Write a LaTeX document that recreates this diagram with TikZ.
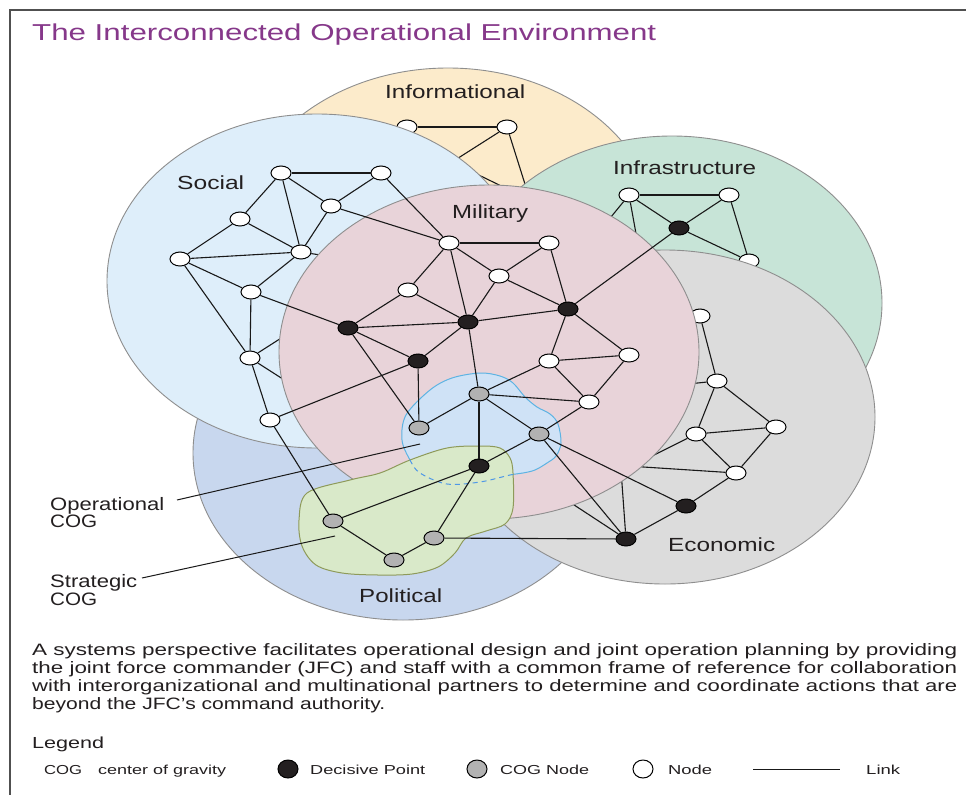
\documentclass[tikz,border=0pt]{standalone}
\usepackage{fontspec}
\setmainfont{Liberation Sans}
\usepackage{graphicx}
\usetikzlibrary{shapes.geometric}
\definecolor{infoc}{HTML}{FCEBCB}
\definecolor{socc}{HTML}{DEEEFA}
\definecolor{milc}{HTML}{E8D3D9}
\definecolor{infrac}{HTML}{C7E4D7}
\definecolor{ecoc}{HTML}{DCDCDC}
\definecolor{polc}{HTML}{C8D7EE}
\definecolor{opfill}{HTML}{CFE2F6}
\definecolor{opline}{HTML}{5DB3E3}
\definecolor{stfill}{HTML}{D9E9C9}
\definecolor{stline}{HTML}{8E9A5A}
\definecolor{ringc}{HTML}{8E8E8E}
\definecolor{dpc}{HTML}{231F20}
\definecolor{cogc}{HTML}{B2B2B2}
\definecolor{txt}{HTML}{231F20}
\definecolor{titlec}{HTML}{86388A}
\definecolor{framec}{HTML}{505050}
\newcommand{\fitw}[3]{\resizebox{#1pt}{\height}{\fontsize{#2}{#2}\selectfont #3}}
\begin{document}
\begin{tikzpicture}[x=1pt,y=-1pt,
  sphere/.style={ellipse, draw=ringc, line width=0.9pt, minimum width=420pt, minimum height=334pt, inner sep=0pt},
  wn/.style={ellipse, draw=black, line width=1pt, fill=white, minimum width=20pt, minimum height=14pt, inner sep=0pt},
  bn/.style={wn, fill=dpc},
  gn/.style={wn, fill=cogc},
  link/.style={draw=black!90, line width=1.1pt},
  lab/.style={anchor=base west, inner sep=0pt, text=txt},
]
\useasboundingbox (0,0) rectangle (966,795);
\fill[white] (0,0) rectangle (966,795);
\draw[framec, line width=1.5pt] (966,10) -- (10,10) -- (10,795);
\node[anchor=base west, inner sep=0pt, text=titlec] (title) at (32,40) {\fitw{624}{23}{The Interconnected Operational Environment}};

% ---------- Informational layer
\node[sphere, fill=infoc] (infoE) at (448,235) {};
\node[wn] (I1) at (407,127) {};
\node[wn] (I2) at (507,127) {};
\coordinate (ih1) at (452,162);
\coordinate (ih2) at (530,200);
\draw[link] (I1) -- (I2);
\draw[link] (I2) -- (ih1);
\draw[link] (ih1) -- (ih2);
\draw[link] (I2) -- (ih2);

% ---------- Infrastructure layer
\node[sphere, fill=infrac] (infraE) at (672,303) {};
\node[wn] (N1) at (629,195) {};
\node[wn] (N2) at (729,195) {};
\node[bn] (ND) at (679,228) {};
\node[wn] (N3) at (749,261) {};
\coordinate (nh1) at (597,234);
\coordinate (nh2) at (639,250);
\foreach \a/\b in {N1/N2, N1/ND, N2/ND, ND/N3, N2/N3, N1/nh1, N1/nh2}
  \draw[link] (\a) -- (\b);

% ---------- Political layer
\node[sphere, fill=polc] (polE) at (403,453) {};

% ---------- Social layer
\node[sphere, fill=socc] (socE) at (317,281) {};
\node[wn] (S1) at (281,173) {};
\node[wn] (S2) at (381,173) {};
\node[wn] (S3) at (331,206) {};
\node[wn] (S4) at (240,219) {};
\node[wn] (S5) at (180,259) {};
\node[wn] (S6) at (301,252) {};
\node[wn] (S7) at (251,292) {};
\node[wn] (S8) at (250,358) {};
\node[wn] (S9) at (270,420) {};
\coordinate (sh1) at (340,258);
\coordinate (sh2) at (300,326);
\coordinate (sh3) at (300,390);
\foreach \a/\b in {S1/S2, S1/S3, S1/S4, S1/S6, S2/S3, S3/S6, S4/S5, S4/S6, S5/S6, S5/S7, S5/S8, S6/S7, S7/S8, S8/S9, S6/sh1, S8/sh2, S8/sh3}
  \draw[link] (\a) -- (\b);

% ---------- Economic layer
\node[sphere, fill=ecoc] (ecoE) at (665,417) {};
\node[bn] (E1) at (626,539) {};
\node[bn] (E2) at (686,506) {};
\node[wn] (E3) at (736,473) {};
\node[wn] (E4) at (776,427) {};
\node[wn] (E5) at (696,434) {};
\node[wn] (E6) at (717,381) {};
\node[wn] (E7) at (700,316) {};
\coordinate (eh1) at (621,470);
\coordinate (eh2) at (565,499);
\coordinate (eh3) at (640,462);
\coordinate (eh4) at (628,466);
\coordinate (eh5) at (688,384);
\foreach \a/\b in {E1/E2, E2/E3, E3/E4, E3/E5, E5/E4, E5/E6, E6/E4, E6/E7, E1/eh1, E1/eh2, E5/eh3, E3/eh4, E6/eh5}
  \draw[link] (\a) -- (\b);

% ---------- Military layer
\node[sphere, fill=milc] (milE) at (489,352) {};

% ---------- centres of gravity
\def\opblob{plot[smooth cycle, tension=0.55] coordinates {(430,390) (452,378) (480,373) (500,376) (513,383) (525,397) (537,407) (550,414) (558,424) (561,443) (556,456) (547,463) (535,470) (523,473) (510,475) (480,482) (447,484) (420,473) (410,460) (402,440) (406,415)}}
\def\stblob{plot[smooth cycle, tension=0.55] coordinates {(307,493) (350,480) (380,473) (410,460) (447,448) (480,446) (500,448) (510,458) (513,473) (513,508) (505,524) (486,531) (466,538) (455,553) (438,567) (412,574) (378,575) (342,573) (316,565) (302,546) (299,520)}}
\path[fill=opfill, draw=opline, line width=1pt] \opblob;
\path[fill=stfill, draw=stline, line width=1pt] \stblob;
\begin{scope}
  \clip \stblob;
  \path[draw=opline!85!blue, line width=1pt, dash pattern=on 5pt off 4pt] \opblob;
\end{scope}

% ---------- Military / COG nodes
\node[wn] (M1) at (449,243) {};
\node[wn] (M2) at (549,243) {};
\node[wn] (M3) at (499,276) {};
\node[wn] (M4) at (408,290) {};
\node[bn] (D1) at (348,328) {};
\node[bn] (D3) at (468,322) {};
\node[bn] (D4) at (568,309) {};
\node[bn] (D2) at (418,361) {};
\node[wn] (M5) at (549,361) {};
\node[wn] (M6) at (629,355) {};
\node[wn] (M7) at (589,402) {};
\node[gn] (C1) at (479,394) {};
\node[gn] (C2) at (539,434) {};
\node[gn] (C3) at (419,428) {};
\node[bn] (D5) at (479,466) {};
\node[gn] (G1) at (333,521) {};
\node[gn] (G2) at (394,560) {};
\node[gn] (G3) at (434,538) {};

\foreach \a/\b in {M1/M2, M1/M3, M2/M3, M1/M4, M1/D3, M2/D4, M3/D3, M3/D4, M4/D1, M4/D3, D1/D3, D1/D2, D1/C3, D3/D2, D3/D4, D3/C1, D4/M5, D4/M6, D4/ND, M5/M6, M5/M7, M6/M7, M5/C1, C1/M7, C1/C2, C1/C3, C1/D5, C2/M7, C2/D5, C2/E1, C2/E2, D2/C3, D5/G1, D5/G3, G1/G2, G2/G3, G3/E1, S9/G1, S2/M1, S3/M1, S7/D1, S9/D2}
  \draw[link] (\a) -- (\b);

% ---------- sphere labels
\node[lab] (lInfo) at (385,98) {\fitw{140}{19}{Informational}};
\node[lab] (lSoc) at (177,189) {\fitw{67}{19}{Social}};
\node[lab] (lMil) at (452,218) {\fitw{76}{19}{Military}};
\node[lab] (lInfra) at (613,174) {\fitw{143}{19}{Infrastructure}};
\node[lab] (lEco) at (668,551) {\fitw{107}{19}{Economic}};
\node[lab] (lPol) at (359,602) {\fitw{83}{19}{Political}};

% ---------- callouts
\node[lab] (lOp1) at (50,510) {\fitw{114}{18}{Operational}};
\node[lab] (lOp2) at (50,527) {\fitw{47}{18}{COG}};
\node[lab] (lSt1) at (50,587) {\fitw{87}{18}{Strategic}};
\node[lab] (lSt2) at (50,605) {\fitw{47}{18}{COG}};
\coordinate (opA) at (177,500);
\coordinate (opB) at (420,444);
\coordinate (stA) at (142,578);
\coordinate (stB) at (335,536);
\draw[link, line width=1pt] (opA) -- (opB);
\draw[link, line width=1pt] (stA) -- (stB);

% ---------- caption
\node[lab] (p1) at (32,655) {\fitw{925}{16.5}{A systems perspective facilitates operational design and joint operation planning by providing}};
\node[lab] (p2) at (32,673) {\fitw{925}{16.5}{the joint force commander (JFC) and staff with a common frame of reference for collaboration}};
\node[lab] (p3) at (32,691) {\fitw{925}{16.5}{with interorganizational and multinational partners to determine and coordinate actions that are}};
\node[lab] (p4) at (32,709) {\fitw{353}{16.5}{beyond the JFC’s command authority.}};

% ---------- legend
\node[lab] (leg) at (32,748) {\fitw{72}{16}{Legend}};
\node[lab] (lg1) at (44,774) {\fitw{38}{13}{COG}};
\node[lab] (lg2) at (98,774) {\fitw{128}{13}{center of gravity}};
\node[bn, minimum height=18pt] (kD) at (288,769) {};
\node[lab] (lg3) at (310,774) {\fitw{115}{13}{Decisive Point}};
\node[gn, minimum height=18pt] (kC) at (477,769) {};
\node[lab] (lg4) at (500,774) {\fitw{89}{13}{COG Node}};
\node[wn, minimum height=18pt] (kN) at (643,769) {};
\node[lab] (lg5) at (668,774) {\fitw{44}{13}{Node}};
\coordinate (kL1) at (753,769);
\coordinate (kL2) at (840,769);
\draw[link, line width=1pt] (kL1) -- (kL2);
\node[lab] (lg6) at (866,774) {\fitw{34}{13}{Link}};
\end{tikzpicture}
\end{document}
